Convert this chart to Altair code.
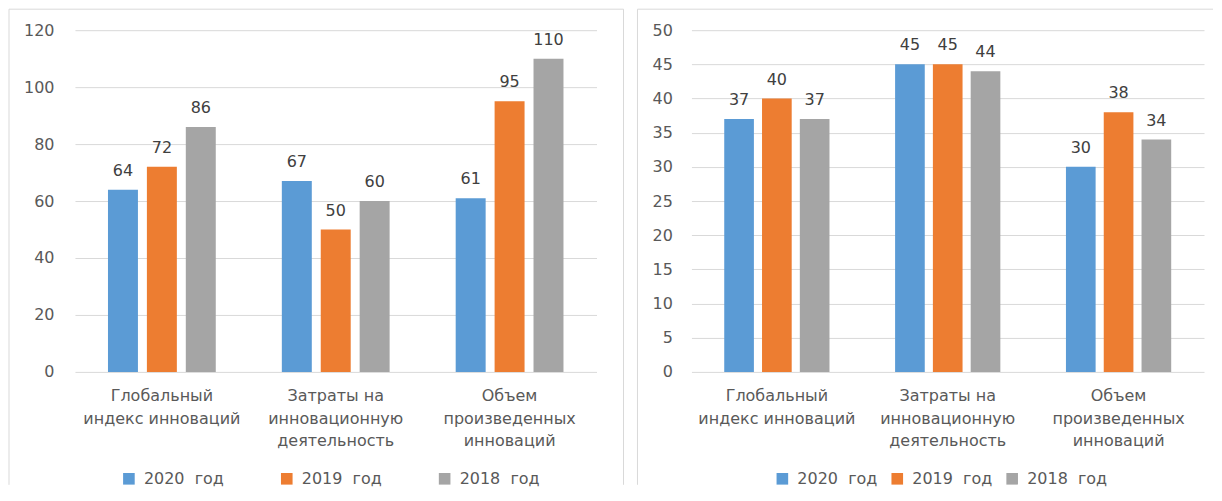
import altair as alt
import pandas as pd

FONT = "DejaVu Sans"
FS = 16
categories = ["Глобальный|индекс инноваций",
              "Затраты на|инновационную|деятельность",
              "Объем|произведенных|инноваций"]
years = ["2020\u00a0 год", "2019\u00a0 год", "2018\u00a0 год"]
colors = ["#5B9BD5", "#ED7D31", "#A5A5A5"]

left_2020 = [64, 67, 61]
left_2019 = [72, 50, 95]
left_2018 = [86, 60, 110]

right_2020 = [37, 45, 30]
right_2019 = [40, 45, 38]
right_2018 = [37, 44, 34]


def make_df(v20, v19, v18):
    rows = []
    for ci, c in enumerate(categories):
        for y, vals in zip(years, [v20, v19, v18]):
            rows.append({"cat": c, "year": y, "value": vals[ci]})
    return pd.DataFrame(rows)


def panel(df, width, height, ymax, ystep, ext, lpad, fl, fr, right_line,
          pin, pout, oin, lx, ly, colpad):
    x = alt.X("cat:N", sort=categories,
              scale=alt.Scale(paddingInner=pin, paddingOuter=pout),
              axis=alt.Axis(title=None, labelExpr="split(datum.label, '|')",
                            labelFontSize=FS, labelFont=FONT, labelColor="#595959",
                            labelLineHeight=22.5, labelPadding=16, ticks=False,
                            domain=False, labelAngle=0, labelLimit=0))
    xo = alt.XOffset("year:N", sort=years,
                     scale=alt.Scale(paddingInner=oin, paddingOuter=0))
    y = alt.Y("value:Q", scale=alt.Scale(domain=[0, ymax], nice=False),
              axis=alt.Axis(title=None, values=list(range(0, ymax + 1, ystep)),
                            grid=True, gridColor="#d9d9d9", domain=False,
                            ticks=False, labelPadding=lpad, minExtent=ext,
                            maxExtent=ext, labelFontSize=FS, labelFont=FONT,
                            labelColor="#595959"))
    color = alt.Color("year:N", sort=years,
                      scale=alt.Scale(domain=years, range=colors),
                      legend=alt.Legend(title=None, orient="none", legendX=lx,
                                        legendY=ly, direction="horizontal",
                                        symbolType="square", symbolSize=135,
                                        symbolStrokeWidth=0, labelFontSize=FS,
                                        labelFont=FONT, labelColor="#595959",
                                        columnPadding=colpad, padding=0,
                                        labelOffset=7))
    bars = alt.Chart(df).mark_bar().encode(x=x, xOffset=xo, y=y, color=color)
    text = alt.Chart(df).mark_text(dy=-14, baseline="alphabetic", fontSize=FS,
                                   font=FONT, color="#404040").encode(
        x=x, xOffset=xo, y=y, text="value:Q")
    fdf = pd.DataFrame({"f": [0]})
    fc = "#d9d9d9"
    layers = [bars, text]
    layers.append(alt.Chart(fdf).mark_rule(color=fc, strokeWidth=1).encode(
        x=alt.value(fl), y=alt.value(-21), y2=alt.value(455)))
    if right_line:
        layers.append(alt.Chart(fdf).mark_rule(color=fc, strokeWidth=1).encode(
            x=alt.value(fr), y=alt.value(-21), y2=alt.value(455)))
    layers.append(alt.Chart(fdf).mark_rule(color=fc, strokeWidth=1).encode(
        x=alt.value(fl), x2=alt.value(fr), y=alt.value(-21)))
    return alt.layer(*layers).properties(width=width, height=height)


dl = make_df(left_2020, left_2019, left_2018)
dr = make_df(right_2020, right_2019, right_2018)

p1 = panel(dl, 522, 342, 120, 20, 66, 21, -66, 549, True,
           0.38, 0.19, 0.23, 46, 441, 54)
p2 = panel(dr, 513, 342, 50, 5, 54, 19, -54, 522, False,
           0.384, 0.192, 0.215, 83, 441, 11)

chart = alt.hconcat(p1, p2, spacing=12).resolve_scale(
    color="independent", x="independent", y="independent", xOffset="independent"
).resolve_legend(color="independent").properties(padding=0).configure_view(stroke=None)

chart.save("out.html", embed_options={"renderer": "svg", "actions": False})
